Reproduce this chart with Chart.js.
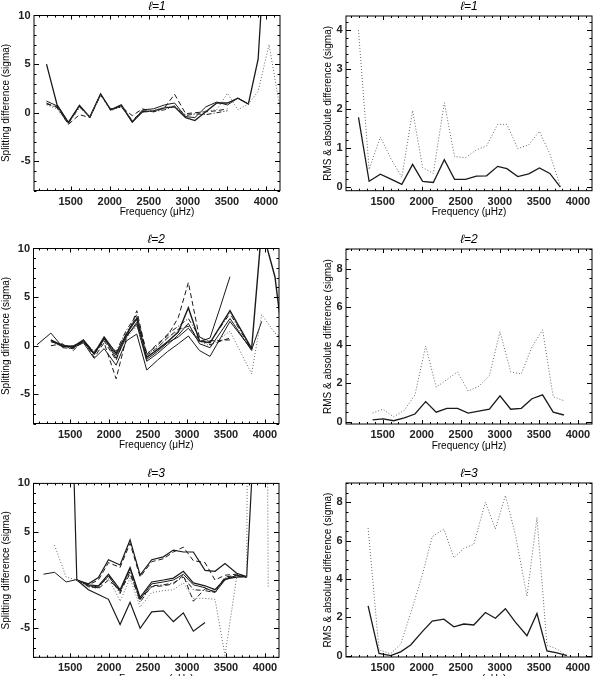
<!DOCTYPE html>
<html>
<head>
<meta charset="utf-8">
<script src="https://cdn.jsdelivr.net/npm/chart.js@4.4.1/dist/chart.umd.min.js"></script>
<style>
  html, body { margin: 0; padding: 0; background: #fff; overflow: hidden; }
  #page { position: relative; width: 597px; height: 676px; overflow: hidden; background: #fff; }
  #page canvas { position: absolute; }
</style>
</head>
<body>
<div id="page">
  <canvas id="l1split"></canvas>
  <canvas id="l1rms"></canvas>
  <canvas id="l2split"></canvas>
  <canvas id="l2rms"></canvas>
  <canvas id="l3split"></canvas>
  <canvas id="l3rms"></canvas>
</div>
<script>
// ---- data ----
const freqTicks = [1500, 2000, 2500, 3000, 3500, 4000];
const splitTicks = [-5, 0, 5, 10];
const rmsTicksL1 = [0, 1, 2, 3, 4];
const rmsTicks = [0, 2, 4, 6, 8];

// l=1
const freqL1 = [1190, 1326, 1470, 1612, 1745, 1883, 2011, 2148, 2289, 2420, 2560, 2700, 2830, 2972, 3090, 3230, 3370, 3507, 3640, 3775, 3900, 4040, 4190];
const splitL1a = [5.0, 0.8, -1.0, 0.75, -0.45, 1.95, 0.3, 0.8, -0.95, 0.1, 0.2, 0.5, 0.6, -0.5, -0.8, 0.1, 1.0, 1.0, 1.5, 0.9, 5.5, 24, null];
const splitL1b = [1.2, 0.7, -1.0, 0.7, -0.5, 1.9, 0.3, 0.7, -1.0, 0.3, 0.4, 0.8, 1.0, -0.4, -0.5, 0.6, 1.1, 0.8, 1.5, 0.9, null, null, null];
const splitL1c = [0.9, 0.6, -1.2, -0.2, -0.5, 1.8, 0.4, 0.6, -0.3, 0.4, 0.1, 0.5, 1.9, -0.1, 0.0, 0.1, 0.2, 0.4, null, null, null, null, null];
const splitL1d = [1.0, 0.5, -1.1, 0.6, -0.4, 1.9, 0.3, 0.6, -0.8, 0.2, 0.1, 0.3, 0.7, -0.3, -0.1, -0.2, 0.0, 0.2, null, null, null, null, null];
const splitL1e = [0.8, 0.4, -1.2, 0.5, -0.4, 1.8, 0.2, 0.7, -0.8, 0.0, 0.2, 0.6, 0.7, -0.2, -0.2, 0.2, 0.3, 2.0, 0.3, 0.9, 2.2, 7.0, 0.0];
const rmsL1 = [1.78, 0.15, 0.33, 0.2, 0.07, 0.58, 0.15, 0.12, 0.7, 0.2, 0.2, 0.28, 0.29, 0.53, 0.47, 0.27, 0.34, 0.49, 0.35, 0.0];
const absL1 = [4.0, 0.45, 1.28, 0.7, 0.25, 1.95, 0.5, 0.35, 2.15, 0.78, 0.75, 0.95, 1.05, 1.6, 1.6, 0.98, 1.08, 1.42, 0.85, 0.02];

// l=2
const freqL2 = [1075, 1253, 1400, 1540, 1671, 1808, 1936, 2090, 2222, 2355, 2483, 2620, 2750, 2888, 3017, 3160, 3295, 3423, 3551, 3829, 3958, 4128, 4260];
const splitL2a = [0.1, 1.3, -0.1, -0.1, 0.5, -0.8, 0.8, -1.3, 0.9, 2.4, -1.4, -0.6, 0.3, 0.9, 1.8, 0.4, 0.8, 3.9, 7.1, null, null, null, null];
const splitL2b = [null, 0.6, 0.0, -0.1, 0.6, -0.8, 0.9, -0.8, 1.2, 2.8, -1.2, -0.4, 0.4, 1.4, 3.9, 0.5, 0.3, null, 3.6, -0.3, 12.1, 7.1, -1.5];
const splitL2c = [null, 0.0, 0.2, -0.5, 0.6, -1.2, 0.3, -3.4, 0.8, 3.6, -0.9, 0.2, 1.0, 2.9, 6.5, 0.8, 0.5, null, 0.6, null, null, null, null];
const splitL2d = [null, null, 0.1, -0.2, 0.3, -1.3, -0.3, -2.0, 0.5, 1.2, -2.5, -1.5, -0.6, 0.2, 1.0, -0.5, -1.1, null, 2.5, -0.4, 2.5, null, null];
const splitL2e = [null, 0.4, 0.1, -0.2, 0.5, -0.6, 0.6, -0.6, 1.6, 3.2, -0.8, 0.0, 1.2, 2.0, 2.8, 0.9, 0.4, null, 3.3, -0.4, null, null, null];
const splitL2f = [null, 0.5, -0.1, 0.0, 0.4, -0.9, 0.7, -1.0, 1.0, 2.2, -1.6, -0.8, 0.1, 1.1, 2.3, 0.2, -0.2, null, 2.8, -0.5, null, null, null];
const splitL2g = [null, null, null, null, null, null, 0.5, -0.6, 0.8, 2.0, -0.9, -0.2, 0.8, 1.5, 2.2, 0.4, 0.0, null, 1.5, -2.9, 3.2, 1.3, 0.6];
const splitL2h = [null, null, -0.2, -0.3, 0.4, -0.9, 0.5, -1.5, 1.3, 3.0, -1.0, -0.2, 0.8, 1.7, 2.0, 0.6, 0.1, null, 0.8, null, null, null, null];
const freqR2 = [1370, 1505, 1640, 1777, 1913, 2050, 2185, 2321, 2458, 2594, 2730, 2866, 3002, 3139, 3275, 3411, 3547, 3683, 3820];
const rmsL2 = [0.1, 0.15, 0.05, 0.2, 0.4, 1.05, 0.5, 0.7, 0.7, 0.45, 0.55, 0.65, 1.35, 0.65, 0.7, 1.2, 1.4, 0.5, 0.35];
const absL2 = [0.45, 0.65, 0.25, 0.6, 1.4, 3.95, 1.8, 2.2, 2.6, 1.6, 1.85, 2.4, 4.7, 2.6, 2.5, 3.9, 4.8, 1.3, 1.1];

// l=3
const freqL3 = [1158, 1300, 1449, 1586, 1735, 1863, 1992, 2141, 2269, 2398, 2547, 2697, 2825, 2953, 3081, 3231, 3359, 3487, 3637, 3765, 3900, 4042];
const splitL3a = [null, null, 40, 0.0, -0.5, -0.6, 0.6, -1.0, 1.3, -1.8, -0.2, 0.0, 0.2, 0.9, -0.3, -0.6, -1.0, 0.1, 0.3, 0.35, 21, null];
const splitL3b = [0.6, 0.8, -0.2, 0.05, -0.6, -0.7, 0.4, -1.2, 1.2, -2.0, -0.4, -0.2, 0.0, 0.6, -0.5, -0.8, -1.3, 0.0, 0.5, 0.3, null, null];
const splitL3c = [null, null, null, 0.0, -0.4, 0.25, 2.1, 1.55, 4.15, 0.5, 2.1, 2.4, 3.1, 2.9, 2.9, 1.0, 0.9, 1.7, 0.7, 0.35, null, null];
const splitL3d = [null, null, null, 0.0, -0.5, 0.0, 1.8, 1.3, 3.8, 0.3, 1.9, 2.2, 2.9, 3.4, 2.0, 1.8, 0.0, 0.5, 0.6, 0.3, null, null];
const splitL3e = [null, null, null, 0.0, -1.0, -1.5, -2.0, -4.6, -2.3, -5.0, -3.3, -3.2, -4.3, -3.4, -5.3, -4.4, null, null, null, null, null, null];
const splitL3f = [null, 3.6, 0.3, 0.0, -0.6, -0.7, 0.2, -2.2, 0.2, -2.8, -1.3, -1.1, -1.0, -0.3, -1.9, -1.9, -2.0, -7.8, 0.3, 0.3, 200, -0.8];
const splitL3g = [null, null, null, 0.0, -0.7, -0.8, 0.5, -1.4, 0.9, -2.3, -0.6, -0.5, -0.3, 0.3, -1.0, -1.1, -1.3, 0.2, 0.4, 0.3, null, null];
const splitL3h = [null, null, null, 0.0, -0.6, -0.9, 0.0, -1.0, 0.6, -2.0, -0.7, -0.6, -0.4, 0.5, -2.2, -0.9, -1.2, 0.3, 0.5, 0.3, null, null];
const freqR3 = [1313, 1453, 1602, 1730, 1858, 2007, 2134, 2283, 2411, 2539, 2666, 2815, 2943, 3071, 3199, 3347, 3475, 3603, 3731, 3860];
const rmsL3 = [2.6, 0.12, 0.0, 0.2, 0.56, 1.25, 1.8, 1.9, 1.5, 1.65, 1.6, 2.25, 1.95, 2.45, 1.75, 1.04, 2.2, 0.25, 0.15, 0.0];
const absL3 = [6.65, 0.3, 0.1, 0.6, 2.2, 4.2, 6.2, 6.6, 5.1, 5.6, 5.8, 8.0, 6.6, 8.35, 6.3, 3.1, 7.2, 0.55, 0.35, 0.0];

// ---- drawing ----
const FONT = '"Liberation Sans", Arial, sans-serif';
const X_MIN = 1030, X_MAX = 4180;
const SOLID = [], DOTTED = [1, 2], DASHED = [5, 3], DASHDOT = [5, 2, 1, 2];

function line(freq, values, dash, width, color) {
    return {
        data: freq.map((f, i) => ({x: f, y: values[i]})).filter(p => p.y !== null),
        showLine: true,
        borderColor: color || '#1a1a1a',
        borderWidth: width || 1,
        borderDash: dash,
        pointRadius: 0,
        tension: 0,
        fill: false
    };
}

// IDL style box with inward major and minor ticks on all four sides
const frame = {
    id: 'frame',
    afterDatasetsDraw(chart, args, opts) {
        const {ctx, chartArea: a} = chart;
        const x = chart.scales.x, y = chart.scales.y;
        ctx.save();
        ctx.strokeStyle = '#000';
        ctx.lineWidth = 1;
        ctx.beginPath();
        const vmark = (v, len) => {
            const p = Math.round(x.getPixelForValue(v)) + 0.5;
            ctx.moveTo(p, a.bottom); ctx.lineTo(p, a.bottom - len);
            ctx.moveTo(p, a.top); ctx.lineTo(p, a.top + len);
        };
        const hmark = (v, len) => {
            const p = Math.round(y.getPixelForValue(v)) + 0.5;
            ctx.moveTo(a.left, p); ctx.lineTo(a.left + len, p);
            ctx.moveTo(a.right, p); ctx.lineTo(a.right - len, p);
        };
        for (let k = Math.ceil(x.min / opts.xMinor); k * opts.xMinor <= x.max; k++) vmark(k * opts.xMinor, 2);
        x.ticks.forEach(t => vmark(t.value, 4));
        for (let k = Math.ceil(y.min / opts.yMinor - 1e-9); k * opts.yMinor <= y.max + 1e-9; k++) hmark(k * opts.yMinor, 2.5);
        y.ticks.forEach(t => hmark(t.value, 5));
        ctx.stroke();
        ctx.strokeRect(a.left, a.top, a.right - a.left, a.bottom - a.top);
        ctx.restore();
    }
};

function panel(cfg) {
    const cv = document.getElementById(cfg.id);
    cv.width = cfg.w; cv.height = cfg.h;
    cv.style.left = cfg.left + 'px';
    cv.style.top = cfg.top + 'px';
    const a = cfg.area;
    const tickFont = {family: FONT, size: 11, weight: 'bold'};
    const labelFont = {family: FONT, size: 10};
    new Chart(cv, {
        type: 'scatter',
        data: {datasets: cfg.datasets},
        options: {
            responsive: false,
            animation: false,
            events: [],
            layout: {padding: {top: cfg.titleY - 7.2, right: cfg.w - a.r, left: 0, bottom: 0}},
            plugins: {
                legend: {display: false},
                tooltip: {enabled: false},
                title: {
                    display: true, text: cfg.title, fullSize: false, color: '#000',
                    font: {family: FONT, size: 12, style: 'italic', weight: 'normal'},
                    padding: {top: 0, bottom: a.t - (cfg.titleY - 7.2) - 14.4}
                },
                frame: {xMinor: 100, yMinor: cfg.yMinor}
            },
            scales: {
                x: {
                    type: 'linear', min: X_MIN, max: X_MAX,
                    grid: {display: false, drawTicks: false}, border: {display: false},
                    afterBuildTicks: s => { s.ticks = freqTicks.map(v => ({value: v})); },
                    afterFit: s => { s.height = cfg.h - a.b; },
                    ticks: {autoSkip: false, maxRotation: 0, padding: 4.4, font: tickFont, color: '#222', callback: v => String(v)},
                    title: {display: true, text: 'Frequency (\u03BCHz)', color: '#000', font: labelFont,
                            padding: {top: 0, bottom: cfg.h - a.b - 22 - 6}}
                },
                y: {
                    type: 'linear', min: cfg.yMin, max: cfg.yMax,
                    grid: {display: false, drawTicks: false}, border: {display: false},
                    afterBuildTicks: s => { s.ticks = cfg.yTicks.map(v => ({value: v})); },
                    afterFit: s => { s.width = a.l; },
                    ticks: {autoSkip: false, padding: 3.5, font: tickFont, color: '#222', callback: v => String(v)},
                    title: {display: true, text: cfg.yTitle, color: '#000', font: labelFont,
                            padding: {top: cfg.yTitleX - 6, bottom: 0}}
                }
            }
        },
        plugins: [frame]
    });
}

const splitTitle = 'Splitting difference (sigma)';
const rmsTitle = 'RMS & absolute difference (sigma)';

panel({
    id: 'l1split', left: 0, top: 0, w: 297, h: 227,
    area: {l: 34, t: 15.5, r: 280, b: 190.5}, titleY: 7, title: '\u2113=1',
    yMin: -8, yMax: 10, yTicks: splitTicks, yMinor: 1, yTitle: splitTitle, yTitleX: 6,
    datasets: [
        line(freqL1, splitL1e, DOTTED, 1, '#666'),
        line(freqL1, splitL1d, DASHDOT),
        line(freqL1, splitL1c, DASHED),
        line(freqL1, splitL1b, SOLID),
        line(freqL1, splitL1a, SOLID, 1.3)
    ]
});
panel({
    id: 'l1rms', left: 297, top: 0, w: 300, h: 227,
    area: {l: 49, t: 16, r: 295, b: 190.7}, titleY: 7, title: '\u2113=1',
    yMin: -0.09, yMax: 4.36, yTicks: rmsTicksL1, yMinor: 0.2, yTitle: rmsTitle, yTitleX: 31.7,
    datasets: [
        line(freqL1, absL1, DOTTED, 1, '#666'),
        line(freqL1, rmsL1, SOLID, 1.3)
    ]
});
panel({
    id: 'l2split', left: 0, top: 225, w: 297, h: 235,
    area: {l: 33.5, t: 23.5, r: 279, b: 198.5}, titleY: 15, title: '\u2113=2',
    yMin: -8, yMax: 10, yTicks: splitTicks, yMinor: 1, yTitle: splitTitle, yTitleX: 6,
    datasets: [
        line(freqL2, splitL2g, DOTTED, 1, '#666'),
        line(freqL2, splitL2h, DASHED),
        line(freqL2, splitL2e, DASHDOT),
        line(freqL2, splitL2c, DASHED),
        line(freqL2, splitL2f, SOLID),
        line(freqL2, splitL2d, SOLID),
        line(freqL2, splitL2a, SOLID),
        line(freqL2, splitL2b, SOLID, 1.4)
    ]
});
panel({
    id: 'l2rms', left: 297, top: 225, w: 300, h: 235,
    area: {l: 49, t: 24, r: 295, b: 199}, titleY: 15, title: '\u2113=2',
    yMin: -0.12, yMax: 9.02, yTicks: rmsTicks, yMinor: 0.5, yTitle: rmsTitle, yTitleX: 31.7,
    datasets: [
        line(freqR2, absL2, DOTTED, 1, '#666'),
        line(freqR2, rmsL2, SOLID, 1.3)
    ]
});
panel({
    id: 'l3split', left: 0, top: 450, w: 297, h: 245,
    area: {l: 33.5, t: 33.4, r: 279, b: 207.3}, titleY: 23.3, title: '\u2113=3',
    yMin: -8, yMax: 10, yTicks: splitTicks, yMinor: 1, yTitle: splitTitle, yTitleX: 6,
    datasets: [
        line(freqL3, splitL3f, DOTTED, 1, '#666'),
        line(freqL3, splitL3h, DASHED),
        line(freqL3, splitL3g, DASHDOT),
        line(freqL3, splitL3d, DASHED),
        line(freqL3, splitL3e, SOLID, 1.2),
        line(freqL3, splitL3b, SOLID),
        line(freqL3, splitL3c, SOLID, 1.2),
        line(freqL3, splitL3a, SOLID, 1.2)
    ]
});
panel({
    id: 'l3rms', left: 297, top: 450, w: 300, h: 245,
    area: {l: 49, t: 33, r: 295, b: 207}, titleY: 23.3, title: '\u2113=3',
    yMin: -0.07, yMax: 9.0, yTicks: rmsTicks, yMinor: 0.5, yTitle: rmsTitle, yTitleX: 31.7,
    datasets: [
        line(freqR3, absL3, DOTTED, 1, '#666'),
        line(freqR3, rmsL3, SOLID, 1.3)
    ]
});
</script>
</body>
</html>
